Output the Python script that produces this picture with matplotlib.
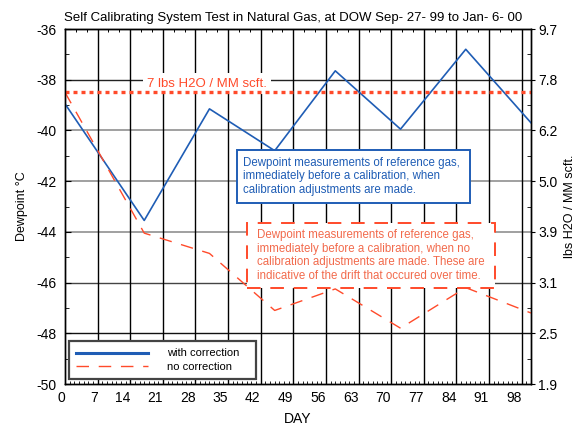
import numpy as np
import matplotlib.pyplot as plt
from matplotlib.lines import Line2D
from matplotlib.patches import Rectangle

plt.rcParams['font.family'] = ['Liberation Sans', 'DejaVu Sans']

# data
days = [0, 17, 31, 45, 58, 72, 86, 100]
with_correction = [-38.95, -43.55, -39.15, -40.8, -37.65, -39.95, -36.8, -39.7]
no_correction = [-38.5, -44.05, -44.85, -47.1, -46.25, -47.8, -46.2, -47.2]
limit_dewpoint = -38.5

dew_ticks = [-36, -38, -40, -42, -44, -46, -48, -50]
lbs_labels = ['9.7', '7.8', '6.2', '5.0', '3.9', '3.1', '2.5', '1.9']
day_ticks = list(range(0, 99, 7))

blue = '#1f5db5'
red = '#ff4a2a'
red_text = '#f26a4c'

fig = plt.figure(figsize=(5.8, 4.28), dpi=100)
ax = fig.add_axes([65 / 580, 44 / 428, 466 / 580, 355 / 428])
ax.set_xlim(0, 100)
ax.set_ylim(-50, -36)

# grid lines (some grey, some black like in the original)
grid_cols = {-38: '#222222', -40: '#999999', -42: '#999999', -44: '#999999',
             -46: '#444444', -48: '#111111'}
for yv, c in grid_cols.items():
    ax.axhline(yv, color=c, lw=1.3 if c == '#999999' else 1.0, zorder=1)
for xv in day_ticks[1:]:
    ax.axvline(xv, color='black', lw=1.0, zorder=1)

ax.plot(days, with_correction, color=blue, lw=1.2, zorder=3)
ax.plot(days, no_correction, color=red, lw=1.0, dashes=(9, 7), zorder=3)
ax.axhline(limit_dewpoint, color=red, lw=2.4, dashes=(1.2, 1.2), zorder=3)

# label sits on a white patch that hides the grid, but not the limit line
ax.text(30.5, -38.15, '7 lbs H2O / MM scft.', color=red, fontsize=9.5,
        ha='center', va='center', zorder=2,
        bbox=dict(facecolor='white', edgecolor='none', pad=3))

# annotation boxes
ax.add_patch(Rectangle((36.9, -42.86), 50.0, 2.09, facecolor='white',
                       edgecolor=blue, lw=1.4, zorder=5))
ax.text(38.2, -41.81, 'Dewpoint measurements of reference gas,\n'
        'immediately before a calibration, when\n'
        'calibration adjustments are made.',
        color=blue, fontsize=8.3, ha='left', va='center', linespacing=1.2,
        zorder=6)
ax.add_patch(Rectangle((39.1, -46.21), 53.2, 2.56, facecolor='white',
                       edgecolor=red, lw=1.4, linestyle=(0, (7, 5)), zorder=5))
ax.text(41.1, -44.93, 'Dewpoint measurements of reference gas,\n'
        'immediately before a calibration, when no\n'
        'calibration adjustments are made. These are\n'
        'indicative of the drift that occured over time.',
        color=red_text, fontsize=8.3, ha='left', va='center', linespacing=1.2,
        zorder=6)

# ticks
ax.set_yticks(dew_ticks)
ax.set_yticklabels([str(t) for t in dew_ticks], fontsize=10)
ax.set_yticks(np.arange(-49, -36, 2), minor=True)
ax.set_xticks(day_ticks)
ax.set_xticklabels([str(t) for t in day_ticks], fontsize=10, ha='right')
ax.set_xticks(np.arange(0, 101, 1), minor=True)
ax.tick_params(axis='x', which='major', direction='in', length=0, pad=5)
ax.tick_params(axis='x', which='minor', direction='in', length=2, width=0.6)
ax.tick_params(axis='y', which='major', direction='in', length=4, pad=6)
ax.tick_params(axis='y', which='minor', direction='in', length=3)

axt = ax.secondary_xaxis('top')
axt.set_xticks(np.arange(0, 101, 7 / 3), minor=False)
axt.set_xticklabels([])
axt.tick_params(direction='in', length=2.5, width=0.7)

axr = ax.twinx()
axr.set_ylim(-50, -36)
axr.set_yticks(dew_ticks)
axr.set_yticklabels(lbs_labels, fontsize=10)
axr.set_yticks(np.arange(-49, -36, 2), minor=True)
axr.tick_params(axis='y', which='major', direction='out', length=3, pad=2)
axr.tick_params(axis='y', which='minor', direction='in', length=3)
axr.set_ylabel('lbs H2O / MM scft.', fontsize=9, labelpad=5)

for a in (ax, axr):
    for s in a.spines.values():
        s.set_linewidth(1.0)

ax.set_xlabel('DAY', fontsize=10, labelpad=5)
ax.set_ylabel('Dewpoint °C', fontsize=9, labelpad=6)
ax.set_title('Self Calibrating System Test in Natural Gas, at DOW Sep- 27- 99 to Jan- 6- 00',
             fontsize=9.5, pad=6, x=0.49)

handles = [Line2D([], [], color=blue, lw=2.2),
           Line2D([], [], color=red, lw=1.0, dashes=(9, 7))]
leg = ax.legend(handles, ['with correction   ', 'no correction   '],
                loc='lower left', bbox_to_anchor=(0.0086, 0.014), fontsize=8,
                handlelength=6.5, handletextpad=1.7, borderpad=0.65,
                labelspacing=0.3, fancybox=False, framealpha=1,
                borderaxespad=0)
leg.get_frame().set_edgecolor('#444444')
leg.get_frame().set_linewidth(1.6)
leg.set_zorder(7)

fig.savefig('out.png', dpi=100)
